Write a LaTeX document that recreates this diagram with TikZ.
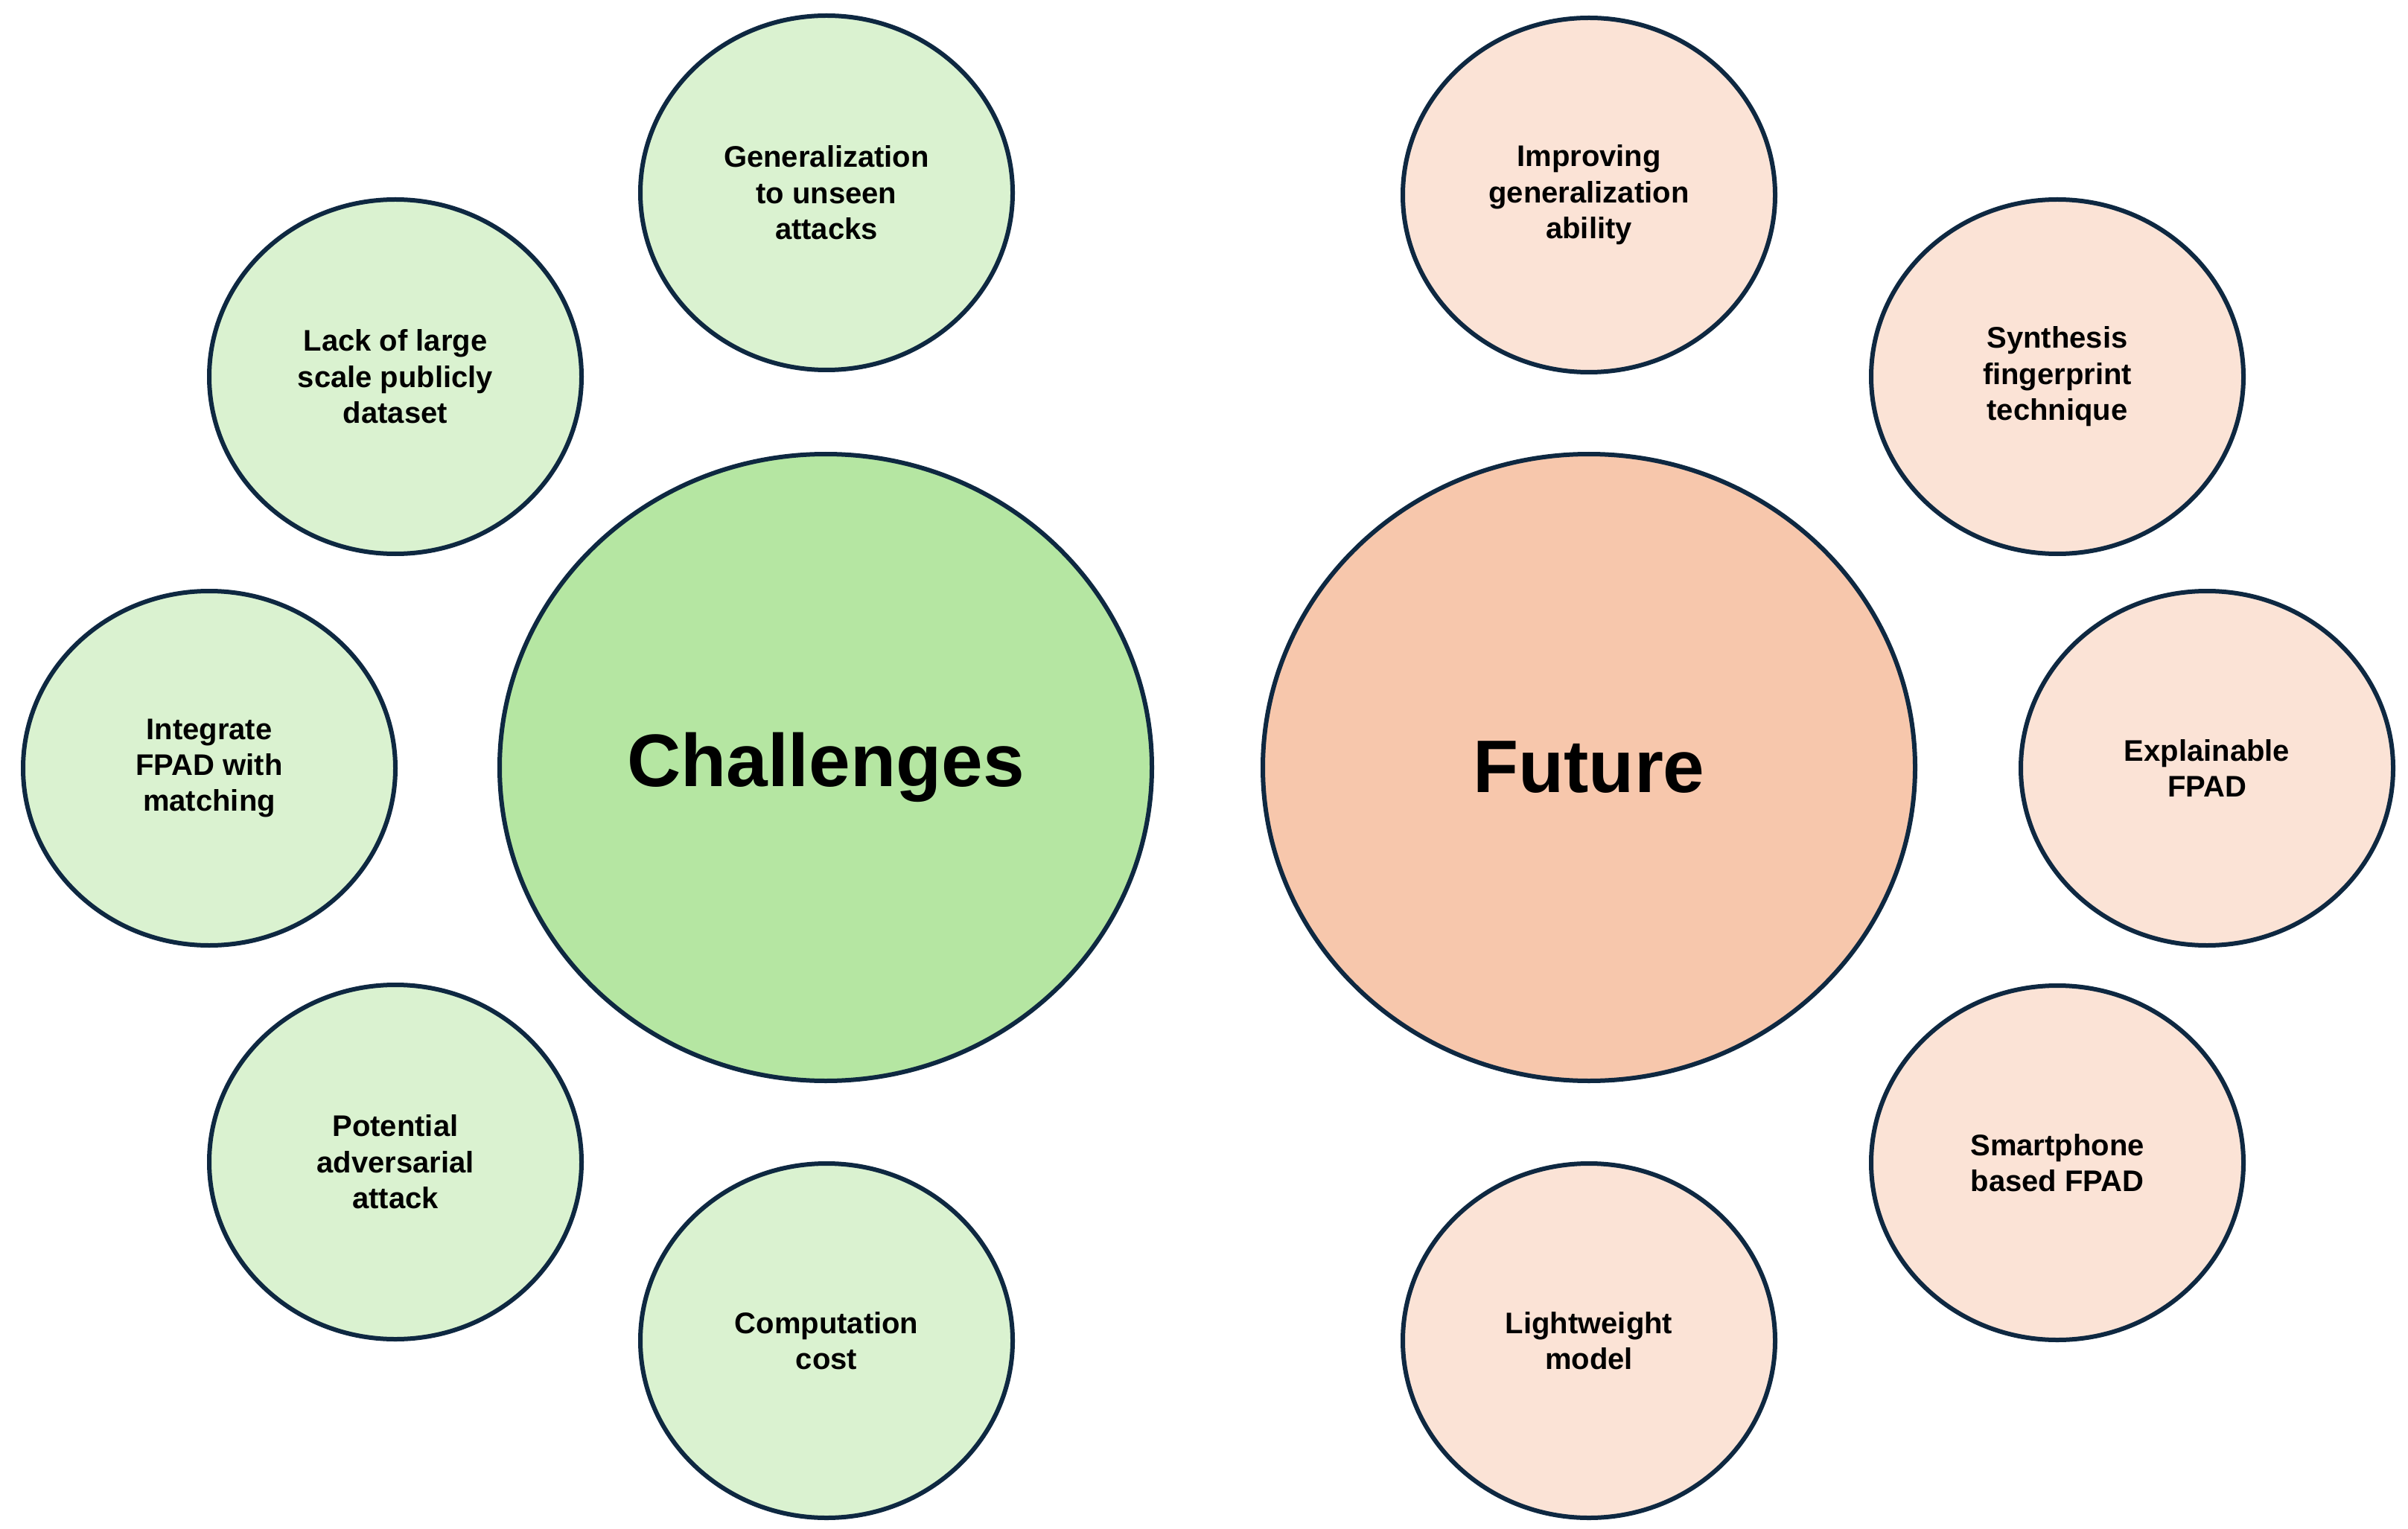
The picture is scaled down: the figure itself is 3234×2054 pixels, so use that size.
\documentclass[tikz,border=0pt]{standalone}
\usepackage{fontspec}
\setmainfont{Liberation Sans}
\usetikzlibrary{shapes.geometric}
\definecolor{edgeblue}{HTML}{0E2841}
\definecolor{gsmall}{HTML}{DAF2D0}
\definecolor{gbig}{HTML}{B5E6A2}
\definecolor{osmall}{HTML}{FBE3D6}
\definecolor{obig}{HTML}{F7C7AC}
\begin{document}
\begin{tikzpicture}[x=0.25pt,y=-0.25pt,
  bubble/.style={ellipse, draw=edgeblue, line width=1.5pt, inner sep=0pt, align=center,
    font=\fontsize{10}{12.1}\selectfont\bfseries},
  smallbub/.style={bubble, minimum width=125pt, minimum height=119pt},
  bigbub/.style={bubble, minimum width=219pt, minimum height=210.5pt,
    font=\fontsize{25}{30}\selectfont\bfseries},
  greensmall/.style={smallbub, fill=gsmall},
  orangesmall/.style={smallbub, fill=osmall}]
\useasboundingbox (0,0) rectangle (3234,2054);
\fill[white] (0,0) rectangle (3234,2054);

\node[bigbub, fill=gbig] (chal) at (1109,1031) {Challenges};
\node[bigbub, fill=obig] (fut) at (2134,1031) {Future};

\node[greensmall] (gen) at (1110,259) {Generalization\\to unseen\\attacks};
\node[greensmall] (lack) at (531,506) {Lack of large\\scale publicly\\dataset};
\node[greensmall] (integ) at (281,1032) {Integrate\\FPAD with\\matching};
\node[greensmall] (pot) at (531,1561) {Potential\\adversarial\\attack};
\node[greensmall] (comp) at (1110,1801) {Computation\\cost};

\node[orangesmall] (impr) at (2134,262) {Improving\\generalization\\ability};
\node[orangesmall] (synth) at (2763,506) {Synthesis\\fingerprint\\technique};
\node[orangesmall] (expl) at (2964,1032) {Explainable\\FPAD};
\node[orangesmall] (smart) at (2763,1562) {Smartphone\\based FPAD};
\node[orangesmall] (light) at (2134,1801) {Lightweight\\model};
\end{tikzpicture}
\end{document}
